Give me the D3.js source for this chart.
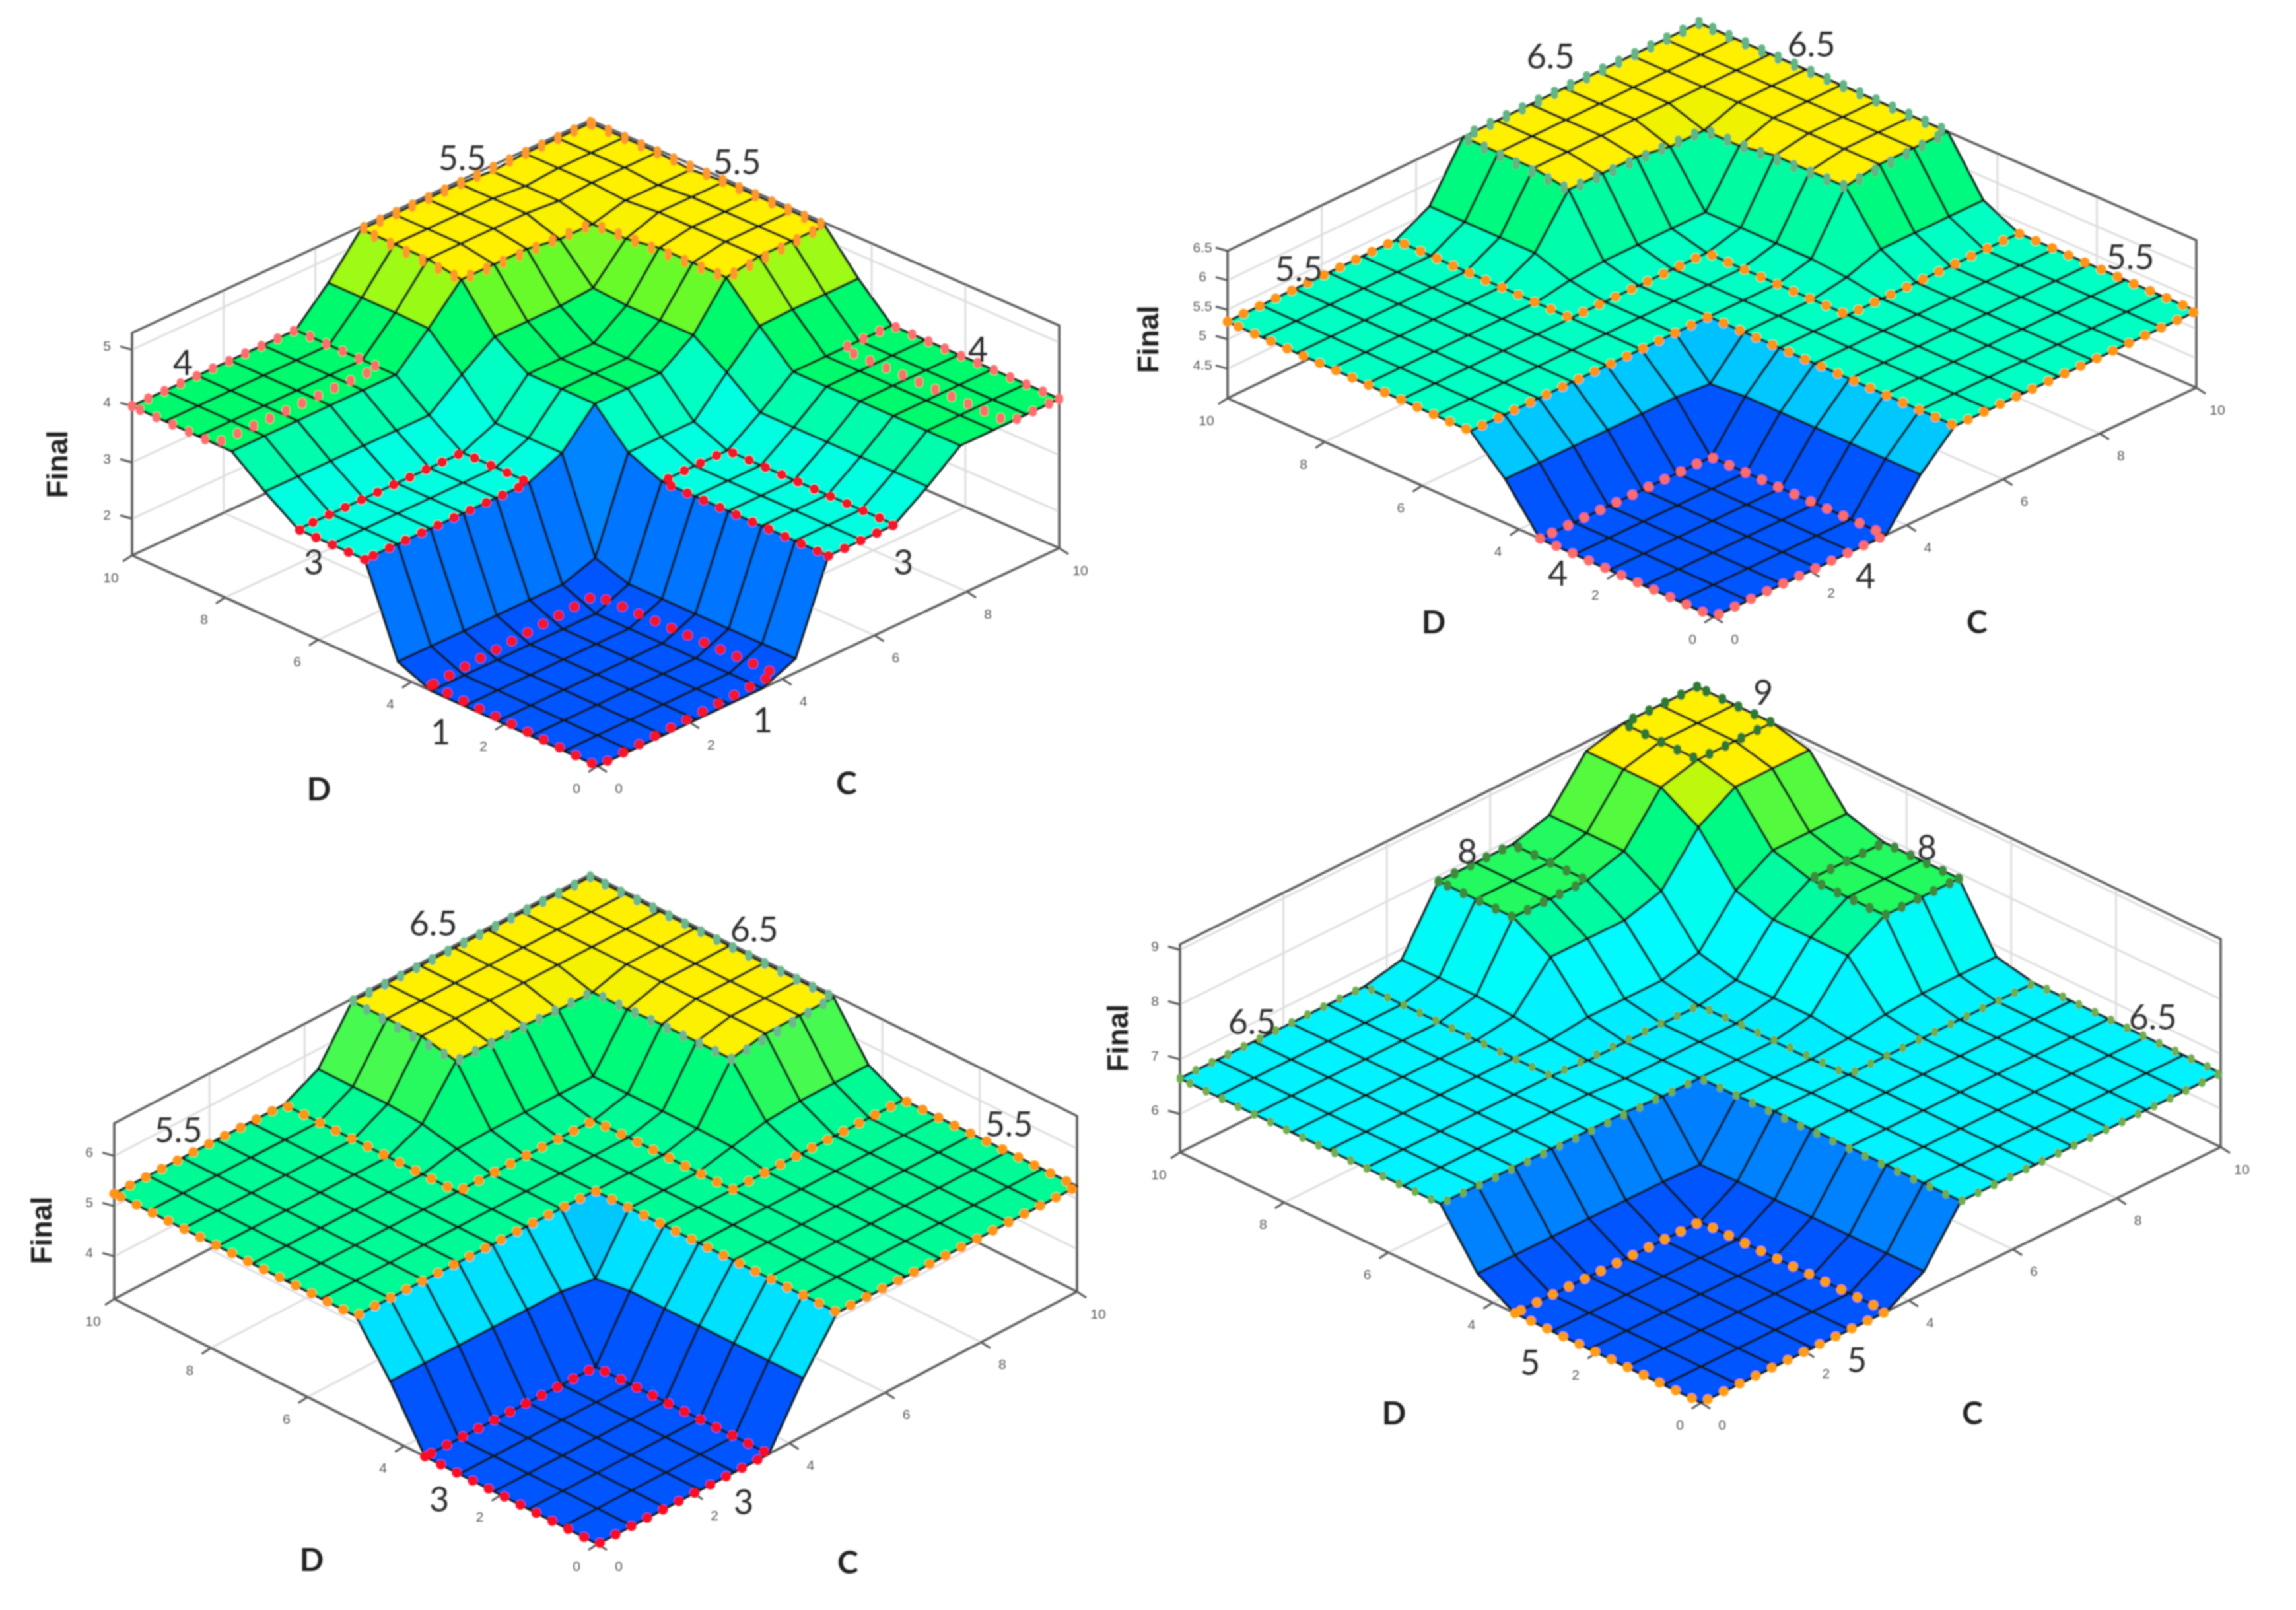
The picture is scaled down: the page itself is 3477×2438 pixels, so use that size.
<!DOCTYPE html>
<html>
<head>
<meta charset="utf-8">
<title>Final surfaces</title>
<script src="https://cdn.jsdelivr.net/npm/d3@7"></script>
<style>
  html, body { margin: 0; background: #fff; }
</style>
</head>
<body>
<div id="chart"></div>
<script>
// axis values of the 15 x 15 evaluation grid
const gridValues = [0, 0.714, 1.429, 2.143, 2.857, 3.571, 4.286, 5, 5.714, 6.429, 7.143, 7.857, 8.571, 9.286, 10];
// which level of the tables below each grid line belongs to
const gridLevel = [0, 0, 0, 0, 0, 0, 1, 2, 2, 2, 3, 4, 5, 5, 5];

const ticksXY = [0, 2, 4, 6, 8, 10];
const ticksZ1 = [2, 3, 4, 5];
const ticksZ2 = [4.5, 5, 5.5, 6, 6.5];
const ticksZ3 = [4, 5, 6];
const ticksZ4 = [6, 7, 8, 9];

const zLimits1 = [1.35, 5.3];
const zLimits2 = [4, 6.5];
const zLimits3 = [3.15, 6.65];
const zLimits4 = [5.3, 9.1];

// surface heights, rows = D level, columns = C level
const surface1 = [
  [1.35, 1.6, 3.15, 3.55, 4, 4],
  [1.6, 1.8, 3.4, 4, 4.55, 4.57],
  [3.15, 3.4, 4, 4.4, 5.15, 5.25],
  [3.55, 4, 4.4, 4.45, 5.05, 5.25],
  [4, 4.55, 5.15, 5.05, 5.05, 5.2],
  [4, 4.57, 5.25, 5.25, 5.2, 5.25]
];
const surface2 = [
  [4, 4.75, 5.3, 5.3, 5.3, 5.3],
  [4.75, 4.7, 5.3, 5.4, 5.6, 5.6],
  [5.3, 5.3, 5.3, 5.45, 6.4, 6.5],
  [5.3, 5.4, 5.45, 5.45, 6.3, 6.5],
  [5.3, 5.6, 6.4, 6.3, 6.3, 6.5],
  [5.3, 5.6, 6.5, 6.5, 6.5, 6.5]
];
const surface3 = [
  [3.15, 4.3, 5.25, 5.25, 5.25, 5.25],
  [4.3, 4.2, 5.25, 5.4, 5.55, 5.6],
  [5.25, 5.25, 5.25, 5.42, 6.45, 6.6],
  [5.25, 5.4, 5.42, 5.42, 6.4, 6.6],
  [5.25, 5.55, 6.45, 6.4, 6.4, 6.6],
  [5.25, 5.6, 6.6, 6.6, 6.6, 6.6]
];
const surface4 = [
  [5.3, 5.7, 6.65, 6.65, 6.65, 6.65],
  [5.7, 5.68, 6.6, 6.65, 6.75, 6.8],
  [6.65, 6.6, 6.6, 6.73, 7.5, 7.9],
  [6.65, 6.65, 6.73, 6.9, 7.7, 8.1],
  [6.65, 6.75, 7.5, 7.7, 8.53, 8.93],
  [6.65, 6.8, 7.9, 8.1, 8.93, 9.1]
];

// colormap: position in the z range -> colour
const colorPos = [0, 0.06, 0.105, 0.3, 0.34, 0.37, 0.456, 0.52, 0.6, 0.67, 0.7, 0.76, 0.82, 0.9, 0.95, 1];
const colorVal = ["#0055ff", "#0073ff", "#0082ff", "#00c8ff", "#00ebff", "#00faff", "#00ffe1", "#00ffc3",
  "#00fa96", "#00fa6e", "#46fa50", "#5afa32", "#a5fa14", "#e6f500", "#fff000", "#fff000"];

// hand-drawn dotted outlines, as grid-line pairs [D, C] with an optional height
const outlineTop = [[14, 14], [14, 7], [11, 7], [11, 11], [7, 11], [7, 14], [14, 14]];
const outlineCross = [[14, 0], [14, 5], [9, 5], [9, 9], [5, 9], [5, 14], [0, 14], [0, 7], [7, 7], [7, 0], [14, 0]];
const outlineFront = [[5, 0], [0, 0], [0, 5], [5, 5], [5, 0]];

const dots1 = [
  { color: "#ff9a2a", size: 11, stretch: 4, path: outlineTop },
  { color: "#ff6e6e", size: 12, stretch: 2, path: [[14, 0], [14, 5], [11.5, 5], [11.5, 0], [14, 0]] },
  { color: "#ff6e6e", size: 12, stretch: 2, path: [[0, 14], [5, 14], [5, 12.5], [0, 12.5], [0, 14]] },
  { color: "#f5182a", path: [[7, 0], [9, 0], [9, 5], [7, 5], [7, 0]] },
  { color: "#f5182a", path: [[0, 7], [0, 9], [5, 9], [5, 7], [0, 7]] },
  { color: "#f5182a", path: [[5, 0, 1.45], [0, 0, 1.35], [0, 5.4, 1.5], [5, 5, 1.68], [5, 0, 1.45]] }
];
const dots2 = [
  { color: "#62b585", size: 11, stretch: 4, path: outlineTop },
  { color: "#ff9414", path: outlineCross },
  { color: "#ff6c6c", path: outlineFront }
];
const dots3 = [
  { color: "#6cb88e", size: 11, stretch: 3, path: outlineTop },
  { color: "#ff9414", path: outlineCross },
  { color: "#f81025", path: outlineFront }
];
const dots4 = [
  { color: "#2f7a35", size: 12, stretch: 2, path: [[14, 14], [14, 12], [12, 12], [12, 14], [14, 14]] },
  { color: "#3e8c3e", size: 12, stretch: 2, path: [[14, 7], [14, 9], [12, 9], [12, 7], [14, 7]] },
  { color: "#3e8c3e", size: 12, stretch: 2, path: [[7, 14], [9, 14], [9, 12], [7, 12], [7, 14]] },
  { color: "#6fae4f", size: 10, stretch: 2, path: outlineCross },
  { color: "#ff9c14", path: outlineFront }
];

// numbers written on the picture
const notes1 = [["5.5", 700, 238], ["5.5", 1116, 244], ["4", 277, 548], ["4", 1481, 528], ["3", 475, 850], ["3", 1368, 850], ["1", 667, 1107], ["1", 1155, 1089]];
const notes2 = [["6.5", 2348, 84], ["6.5", 2743, 66], ["5.5", 1967, 406], ["5.5", 3226, 388], ["4", 2359, 867], ["4", 2825, 871]];
const notes3 = [["6.5", 656, 1397], ["6.5", 1142, 1406], ["5.5", 270, 1710], ["5.5", 1528, 1701], ["3", 665, 2269], ["3", 1126, 2273]];
const notes4 = [["9", 2670, 1047], ["8", 2222, 1288], ["8", 2918, 1282], ["6.5", 1896, 1546], ["6.5", 3260, 1539], ["5", 2317, 2062], ["5", 2812, 2058]];

// where each of the four boxes sits on the page
const frames = [
  { surface: surface1, zLim: zLimits1, zTicks: ticksZ1, dots: dots1, notes: notes1,
    front: [905, 1160], left: [200, 841], right: [1604, 830], back: [894, 519], height: 337,
    finalPos: [86, 703], dPos: [483, 1193], cPos: [1282, 1184] },
  { surface: surface2, zLim: zLimits2, zTicks: ticksZ2, dots: dots2, notes: notes2,
    front: [2595, 934], left: [1859, 603], right: [3326, 587], back: [2573, 258], height: 223,
    finalPos: [1738, 514], dPos: [2171, 940], cPos: [2994, 940] },
  { surface: surface3, zLim: zLimits3, zTicks: ticksZ3, dots: dots3, notes: notes3,
    front: [905, 2338], left: [173, 1967], right: [1631, 1956], back: [894, 1590], height: 266,
    finalPos: [62, 1863], dPos: [472, 2360], cPos: [1284, 2364] },
  { surface: surface4, zLim: zLimits4, zTicks: ticksZ4, dots: dots4, notes: notes4,
    front: [2576, 2124], left: [1787, 1745], right: [3363, 1737], back: [2570, 1355], height: 315,
    finalPos: [1692, 1572], dPos: [2111, 2138], cPos: [2987, 2138] }
];

const svg = d3.select("#chart").append("svg")
  .attr("width", 3477)
  .attr("height", 2438)
  .style("display", "block");

// the reference is a soft upscale, so everything gets a slight blur
svg.append("filter")
  .attr("id", "soft")
  .attr("filterUnits", "userSpaceOnUse")
  .attr("x", 0).attr("y", 0).attr("width", 3477).attr("height", 2438)
  .append("feGaussianBlur")
  .attr("stdDeviation", 0.9);

const root = svg.append("g").attr("filter", "url(#soft)");

const unit = d3.scaleLinear().domain([0, 10]).range([0, 1]);
const colorScale = d3.scaleLinear().domain(colorPos).range(colorVal).interpolate(d3.interpolateRgb);
const lineGen = d3.line();

function drawFrame(f) {
  const g = root.append("g");
  const zScale = d3.scaleLinear().domain(f.zLim).range([0, f.height]);
  const zNorm = d3.scaleLinear().domain(f.zLim).range([0, 1]).clamp(true);

  // bilinear map of the four floor corners, then lift by z
  const project = (d, c, z) => {
    const u = unit(d), v = unit(c);
    const x = f.front[0] + u * (f.left[0] - f.front[0]) + v * (f.right[0] - f.front[0])
      + u * v * (f.back[0] - f.left[0] - f.right[0] + f.front[0]);
    const y = f.front[1] + u * (f.left[1] - f.front[1]) + v * (f.right[1] - f.front[1])
      + u * v * (f.back[1] - f.left[1] - f.right[1] + f.front[1]);
    return [x, y - zScale(z)];
  };
  const zAt = (i, j) => f.surface[gridLevel[i]][gridLevel[j]];
  const nodePoint = (i, j) => project(gridValues[i], gridValues[j], zAt(i, j));

  const zMin = f.zLim[0], zMax = f.zLim[1];

  // grid on the floor and the two back walls
  const gridPaths = [];
  ticksXY.forEach(t => {
    gridPaths.push([project(t, 0, zMin), project(t, 10, zMin), project(t, 10, zMax)]);
    gridPaths.push([project(0, t, zMin), project(10, t, zMin), project(10, t, zMax)]);
  });
  f.zTicks.forEach(t => {
    gridPaths.push([project(10, 0, t), project(10, 10, t), project(0, 10, t)]);
  });
  g.append("g").selectAll("path")
    .data(gridPaths)
    .enter().append("path")
    .attr("d", lineGen)
    .attr("fill", "none")
    .attr("stroke", "#dedede")
    .attr("stroke-width", 3);

  // box outline
  const boxPaths = [
    [project(10, 0, zMin), project(10, 0, zMax), project(10, 10, zMax), project(0, 10, zMax), project(0, 10, zMin)],
    [project(10, 0, zMin), project(10, 10, zMin), project(0, 10, zMin)],
    [project(10, 0, zMin), project(0, 0, zMin), project(0, 10, zMin)]
  ];
  g.append("g").selectAll("path")
    .data(boxPaths)
    .enter().append("path")
    .attr("d", lineGen)
    .attr("fill", "none")
    .attr("stroke", "#5a5a5a")
    .attr("stroke-width", 3.5);

  // tick marks and labels
  const tickG = g.append("g").attr("stroke", "#555").attr("stroke-width", 3);
  const tickText = g.append("g")
    .attr("font-family", "'Liberation Sans', sans-serif")
    .attr("font-size", 21)
    .attr("fill", "#555")
    .attr("text-anchor", "middle")
    .attr("dominant-baseline", "central");

  ticksXY.forEach(t => {
    const a = project(t, 0, zMin), b = project(0, t, zMin);
    tickG.append("line").attr("x1", a[0]).attr("y1", a[1]).attr("x2", a[0] - 14).attr("y2", a[1] + 9);
    tickG.append("line").attr("x1", b[0]).attr("y1", b[1]).attr("x2", b[0] + 14).attr("y2", b[1] + 9);
    tickText.append("text").attr("x", a[0] - 32).attr("y", a[1] + 33).text(t);
    tickText.append("text").attr("x", b[0] + 32).attr("y", b[1] + 33).text(t);
  });
  f.zTicks.forEach(t => {
    const a = project(10, 0, t);
    tickG.append("line").attr("x1", a[0]).attr("y1", a[1]).attr("x2", a[0] - 18).attr("y2", a[1] - 5);
    tickText.append("text").attr("x", a[0] - 38).attr("y", a[1] - 6).text(t);
  });

  // surface faces, far corner first, coloured by their lowest-index corner
  const cells = [];
  for (let i = gridValues.length - 2; i >= 0; i--) {
    for (let j = gridValues.length - 2; j >= 0; j--) {
      cells.push({ i: i, j: j });
    }
  }
  g.append("g").selectAll("path")
    .data(cells)
    .enter().append("path")
    .attr("d", d => lineGen([nodePoint(d.i, d.j), nodePoint(d.i + 1, d.j), nodePoint(d.i + 1, d.j + 1), nodePoint(d.i, d.j + 1)]) + "Z")
    .attr("fill", d => colorScale(zNorm(zAt(d.i, d.j))))
    .attr("stroke", "#101e1e")
    .attr("stroke-width", 3.6)
    .attr("stroke-linejoin", "round");

  // dotted outlines; stretch pulls the round dots out vertically
  const dotPath = d => lineGen(d.path.map(p => {
    const i = Math.min(14, Math.round(p[0])), j = Math.min(14, Math.round(p[1]));
    const z = p.length > 2 ? p[2] : zAt(i, j);
    return project(p[0] * 10 / 14, p[1] * 10 / 14, z);
  }));
  const dotLayers = [];
  f.dots.forEach(d => {
    const s = d.stretch || 0;
    d3.range(-s, s + 1, Math.max(1, s)).forEach(dy => dotLayers.push({ dot: d, dy: dy }));
  });
  g.append("g").selectAll("path")
    .data(dotLayers)
    .enter().append("path")
    .attr("transform", d => `translate(0,${d.dy})`)
    .attr("d", d => dotPath(d.dot))
    .attr("fill", "none")
    .attr("stroke", d => d.dot.color)
    .attr("stroke-width", d => d.dot.size || 15)
    .attr("stroke-linecap", "round")
    .attr("stroke-dasharray", "0 27");

  // annotations
  g.append("g").selectAll("text")
    .data(f.notes)
    .enter().append("text")
    .attr("x", d => d[1])
    .attr("y", d => d[2])
    .attr("text-anchor", "middle")
    .attr("dominant-baseline", "central")
    .attr("font-family", "Lato, sans-serif")
    .attr("font-size", 52)
    .attr("fill", "#2e2e2e")
    .text(d => d[0]);

  g.append("text")
    .attr("transform", `translate(${f.finalPos[0]},${f.finalPos[1]}) rotate(-90)`)
    .attr("text-anchor", "middle")
    .attr("dominant-baseline", "central")
    .attr("font-family", "'Liberation Sans', sans-serif")
    .attr("font-weight", "bold")
    .attr("font-size", 44)
    .attr("fill", "#222")
    .text("Final");

  [["D", f.dPos], ["C", f.cPos]].forEach(a => {
    g.append("text")
      .attr("x", a[1][0])
      .attr("y", a[1][1])
      .attr("text-anchor", "middle")
      .attr("dominant-baseline", "central")
      .attr("font-family", "Lato, sans-serif")
      .attr("font-weight", "bold")
      .attr("font-size", 48)
      .attr("fill", "#222")
      .text(a[0]);
  });
}

frames.forEach(drawFrame);
</script>
</body>
</html>
